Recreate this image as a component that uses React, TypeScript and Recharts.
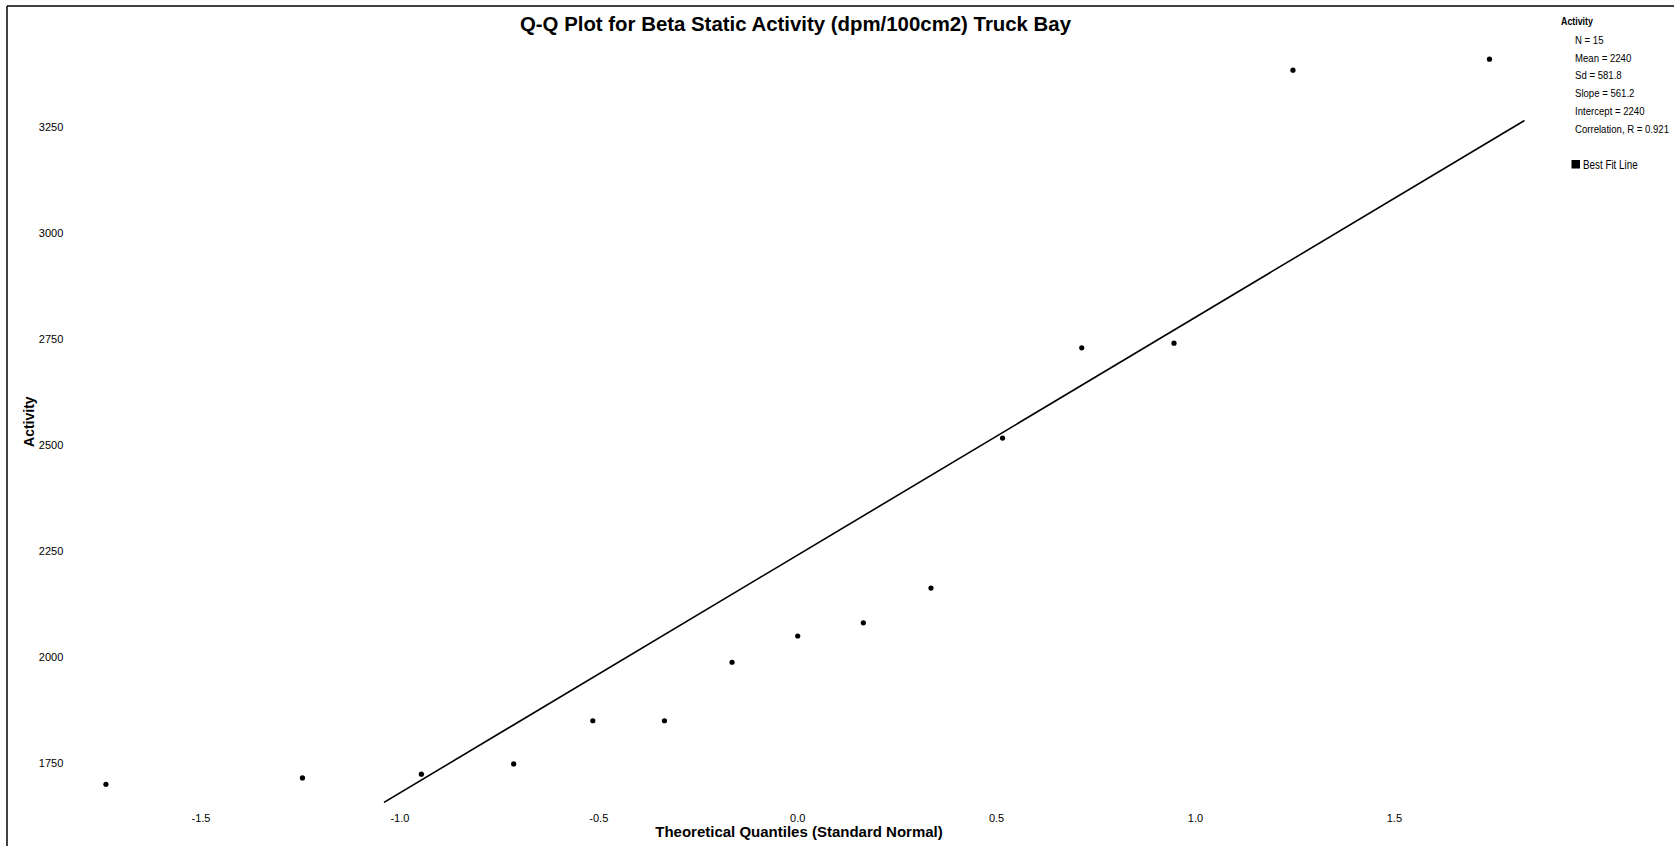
import React from "react";
import { ScatterChart, Scatter, XAxis, YAxis } from "recharts";

// Theoretical quantiles (Blom) for n = 15
const quantiles = [-1.739, -1.245, -0.946, -0.714, -0.515, -0.335, -0.165, 0, 0.165, 0.335, 0.515, 0.714, 0.946, 1.245, 1.739];
const activity = [1699, 1714, 1723, 1747, 1849, 1849, 1987, 2049, 2080, 2162, 2516, 2729, 2740, 3384, 3410];

const slope = 561.2;
const intercept = 2240;
const lineXRange = [-1.04, 1.827];

const xTicks = [-1.5, -1.0, -0.5, 0.0, 0.5, 1.0, 1.5];
const yTicks = [1750, 2000, 2250, 2500, 2750, 3000, 3250];

const legendTitle = "Activity";
const legendLines = ["N = 15", "Mean = 2240", "Sd = 581.8", "Slope = 561.2", "Intercept = 2240", "Correlation, R = 0.921"];
const legendFit = "Best Fit Line";

const points = quantiles.map((q, i) => ({ x: q, y: activity[i] }));
const fitLine = lineXRange.map((x) => ({ x, y: intercept + slope * x }));

const sans = "'Liberation Sans', Arial, sans-serif";

const Dot = (props: any) => <circle cx={props.cx} cy={props.cy} r={2.6} fill="#000" />;
const NoDot = () => <g />;

export default function App() {
  return (
    <div style={{ position: "absolute", left: 0, top: 0, width: 1674, height: 846, background: "#fff" }}>
      <ScatterChart width={1674} height={846} margin={{ top: 42.24, right: 40.92, bottom: 13.04, left: 0 }}>
        <XAxis
          type="number"
          dataKey="x"
          domain={[-1.84, 2.1]}
          ticks={xTicks}
          allowDataOverflow
          axisLine={false}
          tickLine={false}
          tickSize={0}
          tickMargin={11}
          height={30}
          interval={0}
          tickFormatter={(v: number) => v.toFixed(1)}
          tick={{ fill: "#000", fontSize: 11, fontFamily: sans }}
        />
        <YAxis
          type="number"
          dataKey="y"
          domain={[1655, 3450]}
          ticks={yTicks}
          allowDataOverflow
          axisLine={false}
          tickLine={false}
          tickSize={0}
          tickMargin={2.4}
          width={65.75}
          interval={0}
          tick={{ fill: "#000", fontSize: 11, fontFamily: sans }}
        />
        <Scatter data={fitLine} line={{ stroke: "#000", strokeWidth: 1.6 }} shape={NoDot} isAnimationActive={false} />
        <Scatter data={points} shape={Dot} isAnimationActive={false} />
      </ScatterChart>
      <svg width={1674} height={846} style={{ position: "absolute", left: 0, top: 0, pointerEvents: "none" }}>
        <line x1={7} y1={6} x2={1674} y2={6} stroke="#000" strokeWidth={1.5} />
        <line x1={7} y1={6} x2={7} y2={846} stroke="#000" strokeWidth={1.5} />
        <text x={795.5} y={31} textAnchor="middle" fontFamily={sans} fontWeight="bold" fontSize={20.4} fill="#000">
          Q-Q Plot for Beta Static Activity (dpm/100cm2) Truck Bay
        </text>
        <text x={799} y={837} textAnchor="middle" fontFamily={sans} fontWeight="bold" fontSize={15} fill="#000">
          Theoretical Quantiles (Standard Normal)
        </text>
        <text x={0} y={0} transform="translate(33.8 421.7) rotate(-90)" textAnchor="middle" fontFamily={sans} fontWeight="bold" fontSize={14} fill="#000">
          Activity
        </text>
        <text x={0} y={0} transform="translate(1561 25.2) scale(0.82 1)" fontFamily={sans} fontWeight="bold" fontSize={10.8} fill="#000">
          {legendTitle}
        </text>
        {legendLines.map((t, i) => (
          <text key={t} x={0} y={0} transform={`translate(1575 ${43.7 + i * 17.8}) scale(0.82 1)`} fontFamily={sans} fontSize={11.7} fill="#000">
            {t}
          </text>
        ))}
        <rect x={1571.5} y={160} width={8.5} height={8.5} fill="#000" />
        <text x={0} y={0} transform="translate(1583 168.6) scale(0.82 1)" fontFamily={sans} fontSize={12} fill="#000">
          {legendFit}
        </text>
      </svg>
    </div>
  );
}
